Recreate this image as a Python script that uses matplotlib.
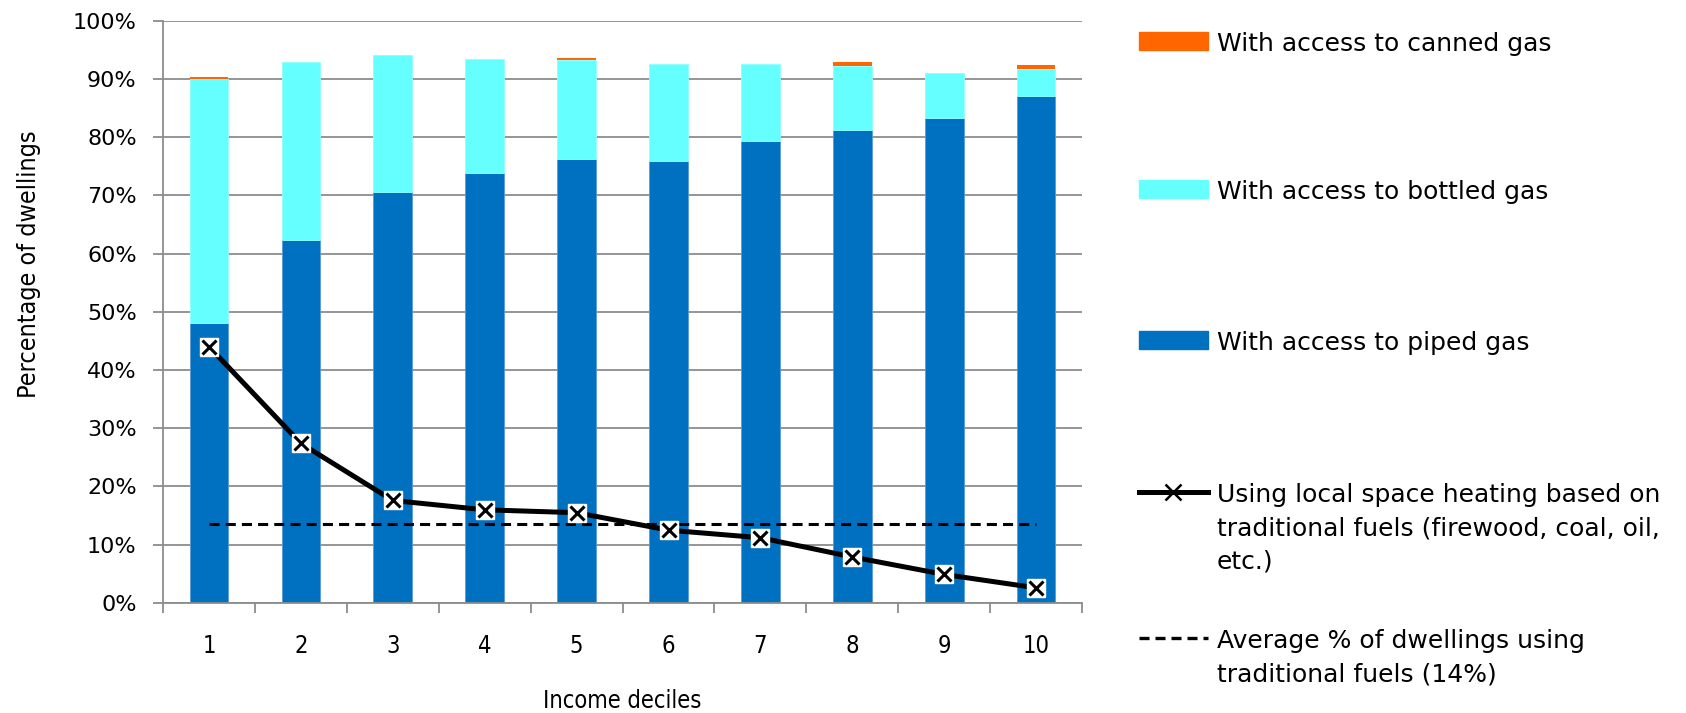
import numpy as np
import matplotlib
matplotlib.use("Agg")
import matplotlib.pyplot as plt
from matplotlib.patches import Patch
from matplotlib.lines import Line2D
from matplotlib.ticker import FixedLocator, PercentFormatter

deciles = np.arange(1, 11)
piped = [48.0, 62.4, 70.6, 73.8, 76.3, 75.9, 79.3, 81.2, 83.3, 87.1]
bottled = [41.9, 30.4, 23.4, 19.6, 16.9, 16.7, 13.3, 11.0, 7.7, 4.6]
canned = [0.4, 0.0, 0.0, 0.0, 0.4, 0.0, 0.0, 0.6, 0.0, 0.6]
traditional = [44.0, 27.4, 17.6, 16.0, 15.5, 12.5, 11.2, 7.9, 4.9, 2.6]
average = 13.6

labels = ["With access to canned gas",
          "With access to bottled gas",
          "With access to piped gas",
          "Using local space heating based on\ntraditional fuels (firewood, coal, oil,\netc.)",
          "Average % of dwellings using\ntraditional fuels (14%)"]

c_piped = "#0070C0"
c_bottled = "#66FFFF"
c_canned = "#FF6600"
grey = "#8C8C8C"
narrow = dict(family=["Liberation Sans Narrow", "DejaVu Sans"], stretch="condensed")

fig = plt.figure(figsize=(16.86, 7.13), dpi=100)
ax = fig.add_axes([0.0967, 0.1543, 0.5451, 0.8169])

w = 0.42
ax.bar(deciles, piped, w, color=c_piped, edgecolor="#5B9BD5", linewidth=0.6, zorder=2)
ax.bar(deciles, bottled, w, bottom=piped, color=c_bottled, edgecolor="#8FFFFF", linewidth=0.6, zorder=2)
ax.bar(deciles, canned, w, bottom=np.add(piped, bottled), color=c_canned, linewidth=0, zorder=2)

ax.plot([deciles[0], deciles[-1]], [average, average], color="black", lw=2.2,
        dashes=(3.3, 2.0), zorder=3)
ax.plot(deciles, traditional, color="black", lw=3.6, zorder=4)
ax.plot(deciles, traditional, ls="none", marker="s", ms=13, mfc="white", mec="white", zorder=5)
ax.plot(deciles, traditional, ls="none", marker="x", ms=10, mec="black", mew=2.2, zorder=6)

ax.set_xlim(0.5, 10.5)
ax.set_ylim(0, 100)
ax.set_yticks(np.arange(0, 101, 10))
ax.yaxis.set_major_formatter(PercentFormatter(decimals=0))
ax.set_xticks(deciles)
ax.xaxis.set_minor_locator(FixedLocator(np.arange(0.5, 10.6, 1)))
ax.grid(axis="y", color=grey, lw=1.3, zorder=0)
ax.set_axisbelow(True)
for s in ["top", "right"]:
    ax.spines[s].set_visible(False)
for s in ["left", "bottom"]:
    ax.spines[s].set_color(grey)
    ax.spines[s].set_linewidth(1.3)
ax.tick_params(axis="y", length=7, width=1.3, color=grey, pad=12, labelsize=16)
ax.tick_params(axis="x", which="major", length=0, pad=22)
ax.tick_params(axis="x", which="minor", length=7, width=1.3, color=grey)
for t in ax.get_xticklabels():
    t.set(fontsize=17, **narrow)

ax.set_xlabel("Income deciles", fontsize=17, labelpad=23, **narrow)
ax.set_ylabel("Percentage of dwellings", fontsize=18, **narrow)
ax.yaxis.set_label_coords(-0.133, 0.582)

handles = [Patch(color=c_canned), Patch(color=c_bottled), Patch(color=c_piped),
           Line2D([], [], color="black", lw=3.6, marker="x", ms=11, mew=1.8,
                  mec="black"),
           Line2D([], [], color="black", lw=2.4, dashes=(3.0, 1.8))]
tops = [32, 180, 331, 483, 629]
for h, lab, top in zip(handles, labels, tops):
    leg = fig.legend([h], [lab], loc="upper left", bbox_to_anchor=(0.6755, 1 - top / 713),
                     frameon=False, fontsize=18, borderpad=0, borderaxespad=0,
                     handlelength=2.76, handleheight=0.76, handletextpad=0.36)
    for t in leg.get_texts():
        t.set_linespacing(1.5)
    for col in leg._legend_handle_box.get_children():
        for item in col.get_children():
            item.align = "top"

fig.savefig("out.png", dpi=100)
